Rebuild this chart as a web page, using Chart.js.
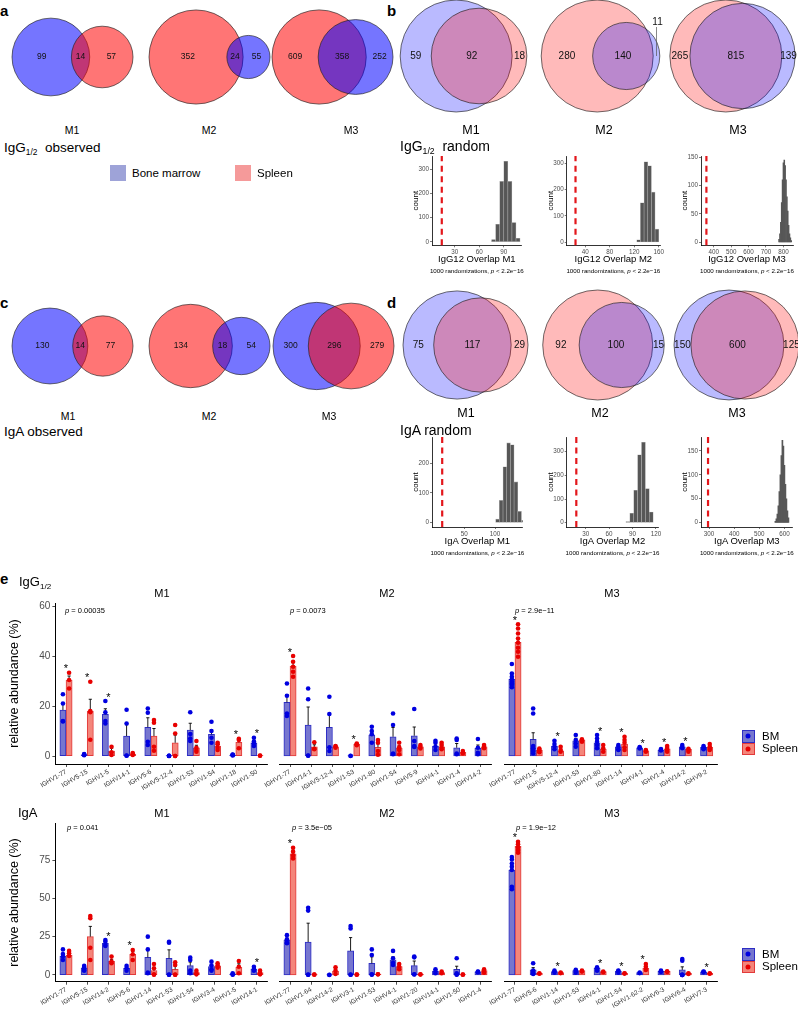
<!DOCTYPE html>
<html>
<head>
<meta charset="utf-8">
<script src="https://cdn.jsdelivr.net/npm/chart.js@4.4.1/dist/chart.umd.min.js"></script>
<style>
html,body{margin:0;padding:0;background:#fff;}
body{width:798px;height:1014px;position:relative;overflow:hidden;font-family:"Liberation Sans",Arial,Helvetica,sans-serif;color:#000;}
canvas{position:absolute;}
.t{position:absolute;white-space:nowrap;line-height:1;}
.t sub{font-size:62%;vertical-align:baseline;position:relative;top:0.35em;}
.sw{position:absolute;box-sizing:border-box;}
.dot{position:absolute;border-radius:50%;width:5px;height:5px;left:50%;top:50%;transform:translate(-50%,-50%);}
</style>
</head>
<body>
<script>
// ====================== DATA ======================
// Venn diagrams: [BM only, overlap, spleen only]
const vennLabels = ['M1', 'M2', 'M3'];
const vennIgGObserved = [[99, 14, 57], [55, 24, 352], [252, 358, 609]];
const vennIgGRandom   = [[59, 92, 18], [11, 140, 280], [139, 815, 265]];
const vennIgAObserved = [[130, 14, 77], [54, 18, 134], [300, 296, 279]];
const vennIgARandom   = [[75, 117, 29], [15, 100, 92], [150, 600, 125]];

// Randomisation histograms (bin centres, counts) and observed overlap
const histIgGM1Bins = [77.5, 82.5, 87.5, 92.5, 97.5, 102.5, 107.5];
const histIgGM1Counts = [10, 73, 250, 333, 250, 80, 15];
const histIgGM2Bins = [127, 133, 139, 145, 151, 157];
const histIgGM2Counts = [10, 150, 305, 290, 190, 50];
const histIgGM3Bins = [775, 780, 785, 790, 795, 800, 805, 810, 815, 820, 825, 830, 835, 840, 845];
const histIgGM3Counts = [5, 15, 35, 70, 110, 140, 145, 135, 110, 80, 55, 30, 15, 8, 3];
const histIgAM1Bins = [104, 110, 116, 122, 128, 134, 140, 146];
const histIgAM1Counts = [12, 75, 188, 268, 262, 137, 38, 8];
const histIgAM2Bins = [84, 89, 94, 99, 104, 109, 114];
const histIgAM2Counts = [5, 40, 137, 287, 340, 144, 45];
const histIgAM3Bins = [564, 568, 572, 576, 580, 584, 588, 592, 596, 600, 604, 608, 612, 616];
const histIgAM3Counts = [3, 8, 18, 35, 65, 100, 140, 172, 160, 120, 80, 50, 25, 10];
const histIgGObserved = [14, 24, 358];
const histIgAObserved = [14, 18, 296];
const histIgGTicksX = [[30, 60, 90], [40, 80, 120, 160], [400, 500, 600, 700, 800]];
const histIgGTicksY = [[0, 100, 200, 300], [0, 100, 200, 300], [0, 50, 100, 150]];
const histIgATicksX = [[50, 100], [30, 60, 90, 120], [300, 400, 500, 600]];
const histIgATicksY = [[0, 100, 200], [0, 100, 200, 300], [0, 50, 100, 150]];

// Panel e: relative abundance (%)
const yTicksIgG = [0, 20, 40, 60];
const yTicksIgA = [0, 25, 50, 75];
const pIgG = ['0.00035', '0.0073', '2.9e\u221211'];
const pIgA = ['0.041', '3.5e\u221205', '1.9e\u221212'];

// IgG1/2 M1
const iggM1Genes = ['IGHV1-77','IGHV5-15','IGHV1-5','IGHV14-1','IGHV5-6','IGHV5-12-4','IGHV1-53','IGHV1-54','IGHV1-18','IGHV1-50'];
const iggM1BM = [18.4, 0.5, 16.7, 8.0, 11.5, 0.1, 10.4, 8.7, 0.4, 5.3];
const iggM1BMse = [2.5, 0.2, 2.2, 4.5, 3.8, 0, 2.7, 1.8, 0.1, 0.9];
const iggM1Sp = [30.4, 18.0, 2.0, 0.8, 8.0, 5.3, 3.3, 4.0, 5.5, 0.2];
const iggM1SpSe = [1.6, 4.7, 1.1, 0.3, 3.0, 3.1, 1.0, 0.7, 1.0, 0];
const iggM1BMpts = [[24.7,21,14,13.8],[0.3,0.8,0.5,0.6],[22,17.5,14,13],[18.5,13,0.1,0.2],[19,17.3,5.7,4.4],[0,0,0.1,0.1],[17.5,8.8,7,6],[13.7,10,7.3,5.3],[0.2,0.5,0.4,0.6],[7.3,5.8,5,4]];
const iggM1SpPts = [[33.3,30.4,27],[29.7,18,17.5,6.5],[3.7,1.5,0.4],[1.2,0.8,0.4],[14.4,13.3,3.7,2.1],[12.4,9,0,0],[6,3.3,2.4,1.7],[5.3,4.7,3.3,2.4],[6.9,6.4,3.1],[0.1,0.2]];
const iggM1Sig = [1,1,1,0,0,0,0,0,1,1];

// IgG1/2 M2
const iggM2Genes = ['IGHV1-77','IGHV14-1','IGHV5-12-4','IGHV1-53','IGHV1-80','IGHV1-54','IGHV5-9','IGHV4-1','IGHV1-4','IGHV14-2'];
const iggM2BM = [21.5, 12.4, 11.5, 0.1, 8.4, 7.7, 8.1, 4.0, 3.3, 3.1];
const iggM2BMse = [3.0, 7.2, 5.0, 0, 1.3, 3.7, 3.5, 0.8, 1.7, 1.3];
const iggM2Sp = [36.0, 3.7, 3.7, 4.7, 3.5, 3.1, 3.7, 3.7, 1.5, 3.7];
const iggM2SpSe = [1.5, 0.8, 0.3, 0.3, 1.4, 1.0, 0.5, 0.6, 0.3, 0.4];
const iggM2BMpts = [[29,24.1,17,16],[27,22.7,0.2,0.1],[23.7,16.8,3.5,2],[0,0.1],[11.7,10,8.7,5.3],[17,12.4,1,0.7],[18.8,6,4,3.6],[6.1,5.3,3.7,2.4],[7,6.4,1,0.7],[6.8,3.3,1.3,0.7]];
const iggM2SpPts = [[40,37.7,35.7,33.7,31.7],[5.5,2.7,2.9],[3.3,4,3.8],[5,4.7,4.3],[6.4,5.3,2,0.5],[5.3,3.5,2.4,0.7],[4.4,3.7,3],[5.3,4.4,3.3,2.7],[2,1.3,1],[4.4,3.7,3.1]];
const iggM2Sig = [1,0,0,1,0,0,0,0,0,0];

// IgG1/2 M3
const iggM3Genes = ['IGHV1-77','IGHV1-5','IGHV5-12-4','IGHV1-53','IGHV1-80','IGHV1-14','IGHV4-1','IGHV1-4','IGHV14-2','IGHV9-2'];
const iggM3BM = [30.7, 6.7, 4.0, 6.1, 5.3, 3.7, 3.3, 2.4, 3.7, 3.5];
const iggM3BMse = [1.0, 2.6, 0.7, 1.0, 0.9, 0.4, 0.3, 0.2, 0.3, 0.3];
const iggM3Sp = [45.5, 2.4, 2.1, 6.4, 2.7, 4.8, 2.1, 2.9, 2.7, 3.5];
const iggM3SpSe = [1.6, 0.3, 0.4, 0.3, 0.5, 0.9, 0.2, 0.4, 0.3, 0.5];
const iggM3BMpts = [[36.8,33,31.7,30.7,29.7,29,28.5,27.5],[19,17,4,3,3,2,2,1],[6.1,4.8,3.7,2.7],[8.4,6.4,5,3.7],[8.4,7,5.7,4.4,3.1],[4.4,3.7,2.7,2.4],[3.3,3.6,3],[2.2,2.5,2.8],[4.4,3.7,3.1],[3,3.5,4,2.7]];
const iggM3SpPts = [[52.7,51,49,47,45.3,43.3,41.7,39.7],[3,2.5,2,1.5],[3.7,2.4,1.7],[6.7,6.1,5.7],[4.4,3.1,1.7],[7.7,6.4,5.3,3.5,2.4],[2.4,1.7,2.2],[4,3.2,2.4,1.7],[2.9,2.4,1.7],[4.8,3.7,2.9,2.4]];
const iggM3Sig = [1,0,1,0,1,1,1,1,1,0];

// IgA M1
const igaM1Genes = ['IGHV1-77','IGHV5-15','IGHV14-2','IGHV5-6','IGHV1-14','IGHV1-53','IGHV1-54','IGHV3-4','IGHV1-5','IGHV14-1'];
const igaM1BM = [12.4, 4.3, 20.7, 4.3, 11.5, 10.9, 6.1, 5.4, 0.65, 3.9];
const igaM1BMse = [1.5, 0.9, 1.0, 0.9, 5.5, 5.5, 2.3, 1.3, 0.3, 0.7];
const igaM1Sp = [13.0, 25.0, 8.9, 13.5, 2.8, 3.7, 1.5, 5.9, 5.0, 1.5];
const igaM1SpSe = [1.0, 6.7, 1.3, 1.8, 1.7, 2.0, 0.7, 0.8, 2.3, 0.7];
const igaM1BMpts = [[16.7,13.7,12,9.8],[5.9,3.3,2.8,5],[22.8,21.7,18.9,19.5],[5.9,4.3,2.8],[25,16.7,1.5,1.1],[21.7,21.1,0.2,0.1],[11.3,9.8,2.8,1.1],[8.7,6.1,3.7,2.8],[1.1,0.4,0.2],[5.4,3.9,2.8]];
const igaM1SpPts = [[15.7,14.1,12.4],[38.5,37,17.8,9.8],[12,8.7,7.6],[16.3,13.5,9.8],[7.2,4.3,0.4,0.1],[8.3,6.5,0.1,0.2],[2.8,1.1,0.4],[7.6,6.1,4.8],[9.1,5.4,1.1],[2.8,1.1,0.4]];
const igaM1Sig = [0,0,1,1,0,0,0,0,0,1];

// IgA M2
const igaM2Genes = ['IGHV1-77','IGHV1-64','IGHV14-2','IGHV3-1','IGHV1-53','IGHV4-1','IGHV1-20','IGHV14-1','IGHV1-50','IGHV1-4'];
const igaM2BM = [22.8, 21.5, 0.1, 15.7, 7.6, 9.8, 6.1, 2.6, 3.7, 2.0];
const igaM2BMse = [1.2, 12.3, 0, 8.7, 4.2, 2.0, 3.0, 0.6, 2.0, 0.3];
const igaM2Sp = [79.0, 0.3, 2.6, 0.3, 0.5, 5.4, 0.4, 1.5, 0.3, 2.8];
const igaM2SpSe = [2.3, 0, 1.3, 0, 0.1, 1.0, 0, 0.4, 0, 0.6];
const igaM2BMpts = [[26,23.3,21.1,20.7],[43.9,42,0.1,0.2],[0.1,0],[32,30.4,0.2,0.1],[16.7,13,0.4,0.2],[15.7,10.9,8,6.5],[12,11.5,0.5,0.3],[3.7,2.2,1.1],[10.9,1.1,0.4,0.2],[2.2,1.8,2]];
const igaM2SpPts = [[83,80.5,78,76],[0.3,0.2],[5,2.8,0.7],[0.3,0.2],[0.5,0.4],[7.2,5.4,3.7],[0.4,0.3],[2.2,1.1],[0.3,0.2],[3.7,2.6,1.5]];
const igaM2Sig = [1,0,0,0,0,0,0,0,0,0];

// IgA M3
const igaM3Genes = ['IGHV1-77','IGHV5-6','IGHV1-14','IGHV1-53','IGHV4-1','IGHV1-54','IGHV1-62-2','IGHV6-3','IGHV6-4','IGHV7-3'];
const igaM3BM = [68.5, 3.3, 2.2, 2.8, 4.3, 2.6, 1.5, 2.4, 3.3, 2.0];
const igaM3BMse = [3.0, 1.5, 0.4, 0.4, 0.6, 0.4, 0.3, 0.3, 2.0, 0.3];
const igaM3Sp = [84.0, 1.1, 1.5, 2.8, 2.2, 1.1, 4.3, 2.4, 1.1, 1.1];
const igaM3SpSe = [1.1, 0.2, 0.3, 0.4, 0.3, 0.2, 1.1, 0.3, 0.2, 0.2];
const igaM3BMpts = [[77,75.4,72.8,70.7,68.5,57.6,56],[7.6,2.8,1.1,0.7],[2.2,1.5,2.8],[3.3,1.5,2.8],[4.3,2.8,5],[2.8,1.5,2.6],[1.5,1.2],[2.4,2.8,2],[10.4,9.3,0.3,0,0,0],[2,1.8,2.3]];
const igaM3SpPts = [[87,85.4,83.3,81.5,79.8],[1.1,0.8],[1.5,1.2],[2.8,2.2],[2.2,1.8],[1.1,0.9],[7.2,5.4,3.3],[2.4,2],[1.1,0.7],[1.1,0.8]];
const igaM3Sig = [1,0,1,0,1,1,1,0,0,1];

// ====================== RENDERING ======================
const FONT = '"Liberation Sans", Arial, Helvetica, sans-serif';
Chart.defaults.font.family = FONT;
Chart.defaults.color = '#000';
Chart.defaults.animation = false;
Chart.defaults.events = [];
Chart.defaults.plugins.legend.display = false;
Chart.defaults.plugins.tooltip.enabled = false;

const COL = {
  bmFill: '#7676cf', bmLine: '#2d2dc4', bmDot: '#0000e0',
  spFill: '#f4857a', spLine: '#e23a3a', spDot: '#e80000'
};

function addCanvas(left, top, w, h) {
  const c = document.createElement('canvas');
  c.width = w; c.height = h;
  c.style.left = left + 'px'; c.style.top = top + 'px';
  c.style.width = w + 'px'; c.style.height = h + 'px';
  document.body.appendChild(c);
  return c;
}
function txt(x, y, html, size, o) {
  o = o || {};
  const d = document.createElement('div');
  d.className = 't';
  d.innerHTML = html;
  d.style.left = x + 'px'; d.style.top = y + 'px';
  d.style.fontSize = size + 'px';
  d.style.transform = 'translate(' + (o.left ? '0' : '-50%') + ',-50%)';
  if (o.bold) d.style.fontWeight = 'bold';
  if (o.color) d.style.color = o.color;
  document.body.appendChild(d);
  return d;
}

// ---------- Venn ----------
function lensArea(r1, r2, d) {
  if (d >= r1 + r2) return 0;
  if (d <= Math.abs(r1 - r2)) return Math.PI * Math.min(r1, r2) ** 2;
  const a = r1 * r1 * Math.acos((d * d + r1 * r1 - r2 * r2) / (2 * d * r1));
  const b = r2 * r2 * Math.acos((d * d + r2 * r2 - r1 * r1) / (2 * d * r2));
  const c = 0.5 * Math.sqrt((-d + r1 + r2) * (d + r1 - r2) * (d - r1 + r2) * (d + r1 + r2));
  return a + b - c;
}
function solveD(r1, r2, ov) {
  let lo = Math.abs(r1 - r2), hi = r1 + r2;
  for (let i = 0; i < 80; i++) {
    const m = (lo + hi) / 2;
    if (lensArea(r1, r2, m) > ov) lo = m; else hi = m;
  }
  return (lo + hi) / 2;
}
function makeVenn(cx, cy, W, H, vals, alpha, fs) {
  const bmOnly = vals[0], both = vals[1], spOnly = vals[2];
  const bm = bmOnly + both, sp = spOnly + both;
  const bmLeft = bm >= sp;
  const nL = bmLeft ? bm : sp, nR = bmLeft ? sp : bm;
  const onlyL = bmLeft ? bmOnly : spOnly, onlyR = bmLeft ? spOnly : bmOnly;
  const blue = 'rgba(0,0,255,' + alpha + ')', red = 'rgba(255,0,0,' + alpha + ')';
  const colL = bmLeft ? blue : red, colR = bmLeft ? red : blue;
  const rL = Math.sqrt(nL / Math.PI), rR = Math.sqrt(nR / Math.PI);
  const d = solveD(rL, rR, both);
  const minX = Math.min(-rL, d - rR), maxX = Math.max(rL, d + rR);
  const s = Math.min(W / (maxX - minX), H / (2 * Math.max(rL, rR)));
  const mid = (minX + maxX) / 2;
  const P = 4;
  const left = Math.round(cx - W / 2) - P, top = Math.round(cy - H / 2) - P;
  const cv = addCanvas(left, top, W + 2 * P, H + 2 * P);
  const unit = ch => { const u = ch.scales.x.getPixelForValue(1) - ch.scales.x.getPixelForValue(0); return isFinite(u) ? u : 0; };
  const ovL = Math.max(-rL, d - rR), ovR = Math.min(rL, d + rR);
  const labels = [
    { t: onlyL, x: (-rL + ovL) / 2 },
    { t: both, x: (ovL + ovR) / 2 },
    { t: onlyR, x: (ovR + d + rR) / 2, w: (d + rR - ovR) }
  ];
  new Chart(cv, {
    type: 'scatter',
    data: { datasets: [
      { data: [{ x: 0, y: 0 }], pointBackgroundColor: colL, pointBorderColor: 'rgba(30,30,30,0.8)', pointBorderWidth: 0.8,
        pointRadius: c => unit(c.chart) * rL, order: 2, clip: false },
      { data: [{ x: d, y: 0 }], pointBackgroundColor: colR, pointBorderColor: 'rgba(30,30,30,0.8)', pointBorderWidth: 0.8,
        pointRadius: c => unit(c.chart) * rR, order: 1, clip: false }
    ] },
    options: {
      responsive: false,
      layout: { padding: P, autoPadding: false },
      scales: {
        x: { type: 'linear', display: false, min: mid - W / (2 * s), max: mid + W / (2 * s) },
        y: { type: 'linear', display: false, min: -H / (2 * s), max: H / (2 * s) }
      }
    },
    plugins: [{
      id: 'vennLabels',
      afterDatasetsDraw(ch) {
        const c = ch.ctx, sx = ch.scales.x, sy = ch.scales.y, u = unit(ch);
        const y0 = sy.getPixelForValue(0);
        c.save();
        c.fillStyle = '#111'; c.font = fs + 'px ' + FONT;
        c.textAlign = 'center'; c.textBaseline = 'middle';
        labels.forEach(l => {
          const x = sx.getPixelForValue(l.x);
          if (l.w !== undefined && l.w * u < 7) {
            c.strokeStyle = '#555'; c.lineWidth = 0.7;
            c.beginPath(); c.moveTo(x, y0); c.lineTo(x, y0 - 29); c.stroke();
            c.fillText(String(l.t), x + 1, y0 - 34);
          } else {
            c.fillText(String(l.t), x, y0);
          }
        });
        c.restore();
      }
    }]
  });
}

// ---------- Histogram ----------
function makeHist(o) {
  const yW = 21, xH = 11;
  const left = Math.floor(o.areaL - yW), top = Math.floor(o.areaT - 6);
  const w = Math.ceil(o.areaR + 10 - left), h = Math.ceil(o.areaB + xH + 1 - top);
  const pad = { left: o.areaL - yW - left, top: o.areaT - top, right: left + w - o.areaR, bottom: top + h - o.areaB - xH };
  const cv = addCanvas(left, top, w, h);
  new Chart(cv, {
    type: 'bar',
    data: { datasets: [{
      data: o.bins.map((b, i) => ({ x: b, y: o.counts[i] })),
      backgroundColor: '#575757', borderColor: '#a9a9a9', borderWidth: o.bw, borderSkipped: false,
      barPercentage: 1, categoryPercentage: 1
    }] },
    options: {
      responsive: false,
      layout: { padding: pad, autoPadding: false },
      scales: {
        x: { type: 'linear', min: o.xMin, max: o.xMax, offset: false,
          afterBuildTicks: s => { s.ticks = o.xTicks.map(v => ({ value: v })); },
          afterFit: s => { s.height = xH; },
          ticks: { font: { size: 6.3 }, color: '#4d4d4d', padding: 1, maxRotation: 0 },
          grid: { display: true, drawOnChartArea: false, offset: false, tickLength: 2, color: '#444', lineWidth: 0.7 },
          border: { display: true, color: '#000', width: 0.8 } },
        y: { type: 'linear', min: o.yMin, max: o.yMax,
          afterBuildTicks: s => { s.ticks = o.yTicks.map(v => ({ value: v })); },
          afterFit: s => { s.width = yW; },
          ticks: { font: { size: 6.3 }, color: '#4d4d4d', padding: 1 },
          grid: { display: true, drawOnChartArea: false, tickLength: 2, color: '#444', lineWidth: 0.7 },
          border: { display: true, color: '#000', width: 0.8 },
          title: { display: true, text: 'count', font: { size: 8 }, color: '#000', padding: { top: 0, bottom: 0 } } }
      }
    },
    plugins: [{
      id: 'obsLine',
      afterDatasetsDraw(ch) {
        const c = ch.ctx, a = ch.chartArea, x = ch.scales.x.getPixelForValue(o.obs);
        c.save();
        c.strokeStyle = '#e3161b'; c.lineWidth = 2.2; c.setLineDash([6, 4.5]);
        c.beginPath(); c.moveTo(x, a.bottom); c.lineTo(x, a.top); c.stroke();
        c.restore();
      }
    }]
  });
  const cx = (o.areaL + o.areaR) / 2;
  txt(cx, o.areaB + 14, o.title, 9.5);
  txt(cx, o.areaB + 25.5, '1000 randomizations, <i>p</i> &lt; 2.2e\u221216', 6.2);
}

// ---------- Bar chart with points ----------
function makeBars(o) {
  const xH = 40, padT = 18;
  const left = o.showY ? 0 : Math.floor(o.areaL - 45);
  const top = Math.floor(o.areaT - padT);
  const w = Math.ceil(o.areaR + 6 - left);
  const h = Math.ceil(o.areaB + xH + 2 - top);
  const pad = { left: o.showY ? 0 : o.areaL - left, top: o.areaT - top, right: left + w - o.areaR, bottom: top + h - o.areaB - xH };
  const off = 0.145; // half of a bar width, in category units
  const cv = addCanvas(left, top, w, h);
  const ptsBM = [], ptsSp = [];
  o.bmPts.forEach((arr, k) => arr.forEach(v => ptsBM.push({ x: k - off, y: v })));
  o.spPts.forEach((arr, k) => arr.forEach(v => ptsSp.push({ x: k + off, y: v })));
  const means = [o.bm, o.sp], ses = [o.bmSe, o.spSe];
  new Chart(cv, {
    type: 'bar',
    data: { labels: o.genes, datasets: [
      { label: 'BM', data: o.bm.map((v, k) => ({ x: k - off, y: v })), xAxisID: 'x2', yAxisID: 'y', grouped: false,
        backgroundColor: COL.bmFill, borderColor: COL.bmLine, borderWidth: 1, borderSkipped: false,
        categoryPercentage: 1, barPercentage: 1, order: 3 },
      { label: 'Spleen', data: o.sp.map((v, k) => ({ x: k + off, y: v })), xAxisID: 'x2', yAxisID: 'y', grouped: false,
        backgroundColor: COL.spFill, borderColor: COL.spLine, borderWidth: 1, borderSkipped: false,
        categoryPercentage: 1, barPercentage: 1, order: 3 },
      { type: 'scatter', label: 'BM points', data: ptsBM, xAxisID: 'x2', yAxisID: 'y', pointRadius: 2.3,
        pointBackgroundColor: COL.bmDot, pointBorderWidth: 0, order: 1 },
      { type: 'scatter', label: 'Spleen points', data: ptsSp, xAxisID: 'x2', yAxisID: 'y', pointRadius: 2.3,
        pointBackgroundColor: COL.spDot, pointBorderWidth: 0, order: 1 }
    ] },
    options: {
      responsive: false,
      layout: { padding: pad, autoPadding: false },
      scales: {
        x: { type: 'category', offset: true,
          grid: { display: true, drawOnChartArea: false, offset: false, tickLength: 3, color: '#222', lineWidth: 0.8 },
          border: { display: true, color: '#000', width: 1 },
          ticks: { font: { size: 6.5 }, color: '#333', minRotation: 30, maxRotation: 30, autoSkip: false, padding: 1 },
          afterFit: s => { s.height = xH; } },
        x2: { type: 'linear', axis: 'x', position: 'bottom', display: false, offset: false, bounds: 'data',
          grid: { offset: false }, min: -0.5, max: o.genes.length - 0.5,
          afterBuildTicks: s => { s.ticks = [{ value: -0.5 }, { value: o.genes.length - 0.5 }]; },
          afterFit: s => { s.height = 0; } },
        y: { type: 'linear', display: o.showY, min: o.yMin, max: o.yMax,
          afterBuildTicks: s => { s.ticks = o.yTicks.map(v => ({ value: v })); },
          afterFit: s => { s.width = o.showY ? o.areaL : 0; },
          ticks: { font: { size: 10 }, color: '#4d4d4d', padding: 2 },
          grid: { display: true, drawOnChartArea: false, tickLength: 3, color: '#222', lineWidth: 0.8 },
          border: { display: true, color: '#000', width: 1 },
          title: { display: true, text: 'relative abundance (%)', font: { size: 12.5 }, color: '#000', padding: { top: 7.5, bottom: 0 } } }
      }
    },
    plugins: [{
      id: 'errAndStars',
      afterDatasetDraw(ch, args) {
        const i = args.index;
        if (i > 1) return;
        const c = ch.ctx, ys = ch.scales.y;
        c.save(); c.strokeStyle = '#000'; c.lineWidth = 0.9;
        args.meta.data.forEach((bar, k) => {
          const se = ses[i][k];
          if (!se) return;
          const y0 = ys.getPixelForValue(means[i][k]), y1 = ys.getPixelForValue(means[i][k] + se);
          c.beginPath();
          c.moveTo(bar.x, y0); c.lineTo(bar.x, y1);
          c.moveTo(bar.x - 1.6, y1); c.lineTo(bar.x + 1.6, y1);
          c.stroke();
        });
        c.restore();
      },
      afterDatasetsDraw(ch) {
        const c = ch.ctx, xs = ch.scales.x, ys = ch.scales.y;
        c.save(); c.fillStyle = '#000'; c.font = '11px ' + FONT; c.textAlign = 'center'; c.textBaseline = 'alphabetic';
        o.sig.forEach((sg, k) => {
          if (!sg) return;
          const top = Math.max(...o.bmPts[k], ...o.spPts[k], o.bm[k] + o.bmSe[k], o.sp[k] + o.spSe[k]);
          const y = ys.getPixelForValue(top) - 7;
          c.fillText('*', xs.getPixelForValue(k), y + 6.5);
        });
        c.restore();
      }
    }]
  });
}

// ====================== LAYOUT ======================
// panel letters
txt(0, 10, 'a', 15, { left: true, bold: true });
txt(387, 10, 'b', 15, { left: true, bold: true });
txt(0, 302, 'c', 15, { left: true, bold: true });
txt(387, 302, 'd', 15, { left: true, bold: true });
txt(0, 578, 'e', 15, { left: true, bold: true });

// panel a
const vennA = [[72.5, 57], [209.5, 57], [332.5, 57]];
vennIgGObserved.forEach((v, i) => makeVenn(vennA[i][0], vennA[i][1], 121, 104, v, 0.54, 8.5));
[[72, 130], [209, 130], [351, 130]].forEach((p, i) => txt(p[0], p[1], vennLabels[i], 10.5));
txt(4, 148, 'IgG<sub>1/2</sub>&nbsp; observed', 13.5, { left: true });
(function () {
  const s1 = document.createElement('div'); s1.className = 'sw';
  s1.style.cssText += 'left:110px;top:165px;width:16px;height:16px;background:#9ea3d8;';
  document.body.appendChild(s1);
  const s2 = document.createElement('div'); s2.className = 'sw';
  s2.style.cssText += 'left:235px;top:165px;width:16px;height:16px;background:#f59a9a;';
  document.body.appendChild(s2);
})();
txt(132, 173.5, 'Bone marrow', 11.5, { left: true });
txt(257, 173.5, 'Spleen', 11.5, { left: true });

// panel b
const vennB = [[463.5, 56], [600.5, 56], [732, 56]];
vennIgGRandom.forEach((v, i) => makeVenn(vennB[i][0], vennB[i][1], 127, 112, v, 0.27, 10));
[[471, 130], [604, 130], [738, 130]].forEach((p, i) => txt(p[0], p[1], vennLabels[i], 12.5));
txt(400, 146, 'IgG<sub>1/2</sub>&nbsp; random', 14, { left: true });

const histIgG = [
  { areaL: 432, areaR: 521.7, xMin: 2, xMax: 112, yMin: -14, yMax: 355, bins: histIgGM1Bins, counts: histIgGM1Counts, bw: 0.6 },
  { areaL: 566.7, areaR: 660, xMin: 9.6, xMax: 162, yMin: -11, yMax: 327, bins: histIgGM2Bins, counts: histIgGM2Counts, bw: 0.6 },
  { areaL: 701, areaR: 793, xMin: 327, xMax: 855, yMin: -5.3, yMax: 152, bins: histIgGM3Bins, counts: histIgGM3Counts, bw: 0 }
];
histIgG.forEach((h, i) => makeHist(Object.assign(h, {
  areaT: 156, areaB: 245.3, xTicks: histIgGTicksX[i], yTicks: histIgGTicksY[i], obs: histIgGObserved[i],
  title: 'IgG12 Overlap ' + vennLabels[i]
})));

// panel c
const vennC = [[72.5, 346], [209.5, 346], [333, 346]];
vennIgAObserved.forEach((v, i) => makeVenn(vennC[i][0], vennC[i][1], 121, 104, v, 0.54, 8.5));
[[68, 416], [209, 416], [329, 416]].forEach((p, i) => txt(p[0], p[1], vennLabels[i], 10.5));
txt(4, 432, 'IgA observed', 13.5, { left: true });

// panel d
const vennD = [[465.5, 345], [603, 345], [736, 345]];
vennIgARandom.forEach((v, i) => makeVenn(vennD[i][0], vennD[i][1], 125, 110, v, 0.27, 10));
[[466, 413], [600, 413], [737, 413]].forEach((p, i) => txt(p[0], p[1], vennLabels[i], 12.5));
txt(400, 430, 'IgA random', 14, { left: true });

const histIgA = [
  { areaL: 432, areaR: 522.7, xMin: -2.6, xMax: 145, yMin: -14.5, yMax: 288, bins: histIgAM1Bins, counts: histIgAM1Counts, bw: 0.6 },
  { areaL: 566.7, areaR: 658.3, xMin: 5.7, xMax: 123, yMin: -18, yMax: 362, bins: histIgAM2Bins, counts: histIgAM2Counts, bw: 0.6 },
  { areaL: 701, areaR: 792.7, xMin: 268, xMax: 633, yMin: -9, yMax: 179, bins: histIgAM3Bins, counts: histIgAM3Counts, bw: 0 }
];
histIgA.forEach((h, i) => makeHist(Object.assign(h, {
  areaT: 437, areaB: 527, xTicks: histIgATicksX[i], yTicks: histIgATicksY[i], obs: histIgAObserved[i],
  title: 'IgA Overlap ' + vennLabels[i]
})));

// panel e
const colsE = [[55.4, 267.6], [279.4, 491.6], [504.3, 717.3]];
const iggSets = [
  [iggM1Genes, iggM1BM, iggM1BMse, iggM1Sp, iggM1SpSe, iggM1BMpts, iggM1SpPts, iggM1Sig],
  [iggM2Genes, iggM2BM, iggM2BMse, iggM2Sp, iggM2SpSe, iggM2BMpts, iggM2SpPts, iggM2Sig],
  [iggM3Genes, iggM3BM, iggM3BMse, iggM3Sp, iggM3SpSe, iggM3BMpts, iggM3SpPts, iggM3Sig]
];
const igaSets = [
  [igaM1Genes, igaM1BM, igaM1BMse, igaM1Sp, igaM1SpSe, igaM1BMpts, igaM1SpPts, igaM1Sig],
  [igaM2Genes, igaM2BM, igaM2BMse, igaM2Sp, igaM2SpSe, igaM2BMpts, igaM2SpPts, igaM2Sig],
  [igaM3Genes, igaM3BM, igaM3BMse, igaM3Sp, igaM3SpSe, igaM3BMpts, igaM3SpPts, igaM3Sig]
];
function setToCfg(s) {
  return { genes: s[0], bm: s[1], bmSe: s[2], sp: s[3], spSe: s[4], bmPts: s[5], spPts: s[6], sig: s[7] };
}
iggSets.forEach((s, i) => makeBars(Object.assign(setToCfg(s), {
  areaL: colsE[i][0], areaR: colsE[i][1], areaT: 603, areaB: 764, yMin: -3.2, yMax: 61.2, yTicks: yTicksIgG, showY: i === 0
})));
igaSets.forEach((s, i) => makeBars(Object.assign(setToCfg(s), {
  areaL: colsE[i][0], areaR: colsE[i][1], areaT: 823.3, areaB: 981.7, yMin: -4.4, yMax: 99, yTicks: yTicksIgA, showY: i === 0
})));

txt(19, 582, 'IgG<sub>1/2</sub>', 13, { left: true });
[162, 387, 612].forEach((x, i) => txt(x, 593, vennLabels[i], 11));
[65, 290, 515].forEach((x, i) => txt(x, 611, '<i>p</i> = ' + pIgG[i], 7.5, { left: true }));
txt(18, 812, 'IgA', 13, { left: true });
[162, 387, 612].forEach((x, i) => txt(x, 812.5, vennLabels[i], 11));
[67, 292, 516].forEach((x, i) => txt(x, 828, '<i>p</i> = ' + pIgA[i], 7.5, { left: true }));

function legendE(top) {
  [[COL.bmFill, COL.bmLine, COL.bmDot, 'BM'], [COL.spFill, COL.spLine, COL.spDot, 'Spleen']].forEach((c, j) => {
    const s = document.createElement('div'); s.className = 'sw';
    s.style.cssText += 'left:742px;top:' + (top + j * 12.5) + 'px;width:12.5px;height:12.5px;background:' + c[0] + ';border:1px solid ' + c[1] + ';';
    const dd = document.createElement('div'); dd.className = 'dot'; dd.style.background = c[2];
    s.appendChild(dd);
    document.body.appendChild(s);
    txt(762, top + j * 12.5 + 6.5, c[3], 11.5, { left: true });
  });
}
legendE(730);
legendE(948);
</script>
</body>
</html>
